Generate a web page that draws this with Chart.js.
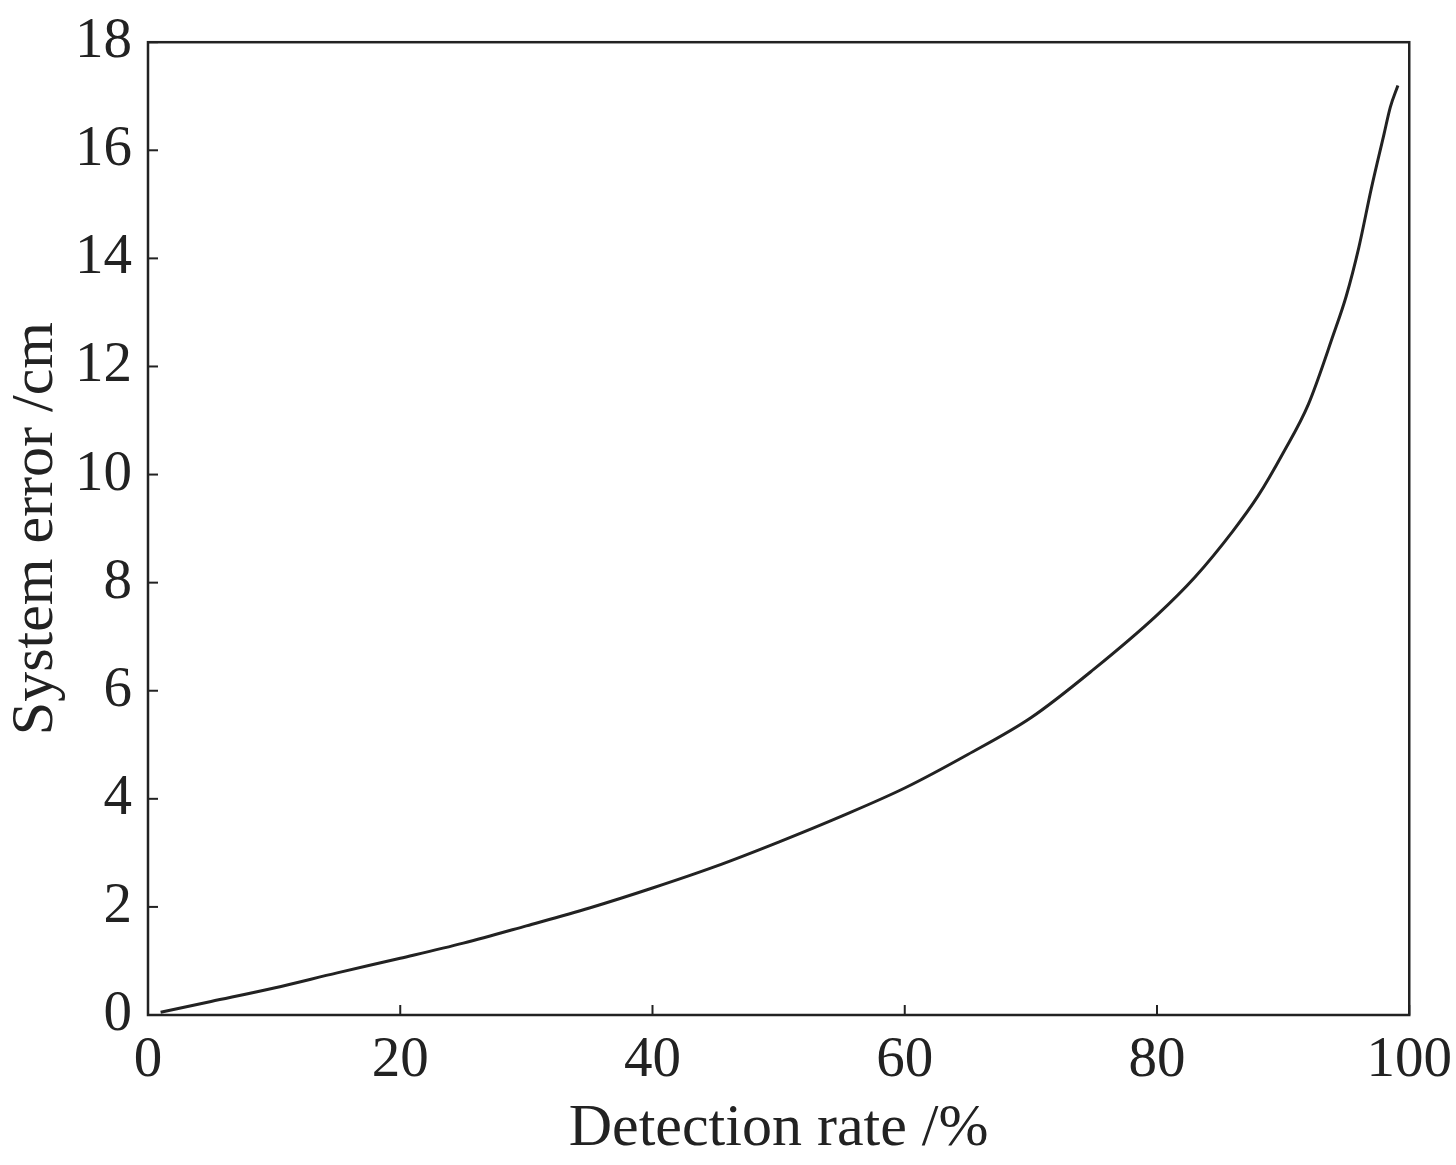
<!DOCTYPE html>
<html>
<head>
<meta charset="utf-8">
<script src="https://cdn.jsdelivr.net/npm/chart.js@4"></script>
<style>body{margin:0;background:#fff}</style>
</head>
<body>
<canvas id="c" width="1456" height="1165"></canvas>
<script>
// values
const rate = [1, 5, 10, 15, 20, 25, 30, 35, 40, 45, 50, 55, 60, 65, 70, 75, 80, 83, 86, 88, 90, 92, 94, 95, 96, 97, 98, 98.5, 99.1];
const err = [0.05, 0.25, 0.5, 0.78, 1.05, 1.33, 1.65, 1.98, 2.35, 2.75, 3.2, 3.68, 4.2, 4.82, 5.5, 6.4, 7.4, 8.1, 8.95, 9.6, 10.4, 11.3, 12.6, 13.3, 14.2, 15.3, 16.3, 16.8, 17.2];
const xTicks = [0, 20, 40, 60, 80, 100];
const yTicks = [0, 2, 4, 6, 8, 10, 12, 14, 16, 18];

const ink = "#222";
const font = "'Liberation Serif', 'DejaVu Serif', serif";

// frame plus short inward tick marks
const framePlugin = {
    id: "frame",
    afterDraw(chart) {
        const { ctx, chartArea: a, scales } = chart;
        ctx.save();
        ctx.strokeStyle = ink;
        ctx.lineWidth = 2.5;
        ctx.strokeRect(a.left, a.top, a.right - a.left, a.bottom - a.top);
        ctx.lineWidth = 2;
        xTicks.forEach(v => {
            const px = scales.x.getPixelForValue(v);
            ctx.beginPath(); ctx.moveTo(px, a.bottom); ctx.lineTo(px, a.bottom - 10); ctx.stroke();
        });
        yTicks.forEach(v => {
            const py = scales.y.getPixelForValue(v);
            ctx.beginPath(); ctx.moveTo(a.left, py); ctx.lineTo(a.left + 10, py); ctx.stroke();
        });
        ctx.restore();
    }
};

new Chart(document.getElementById("c"), {
    type: "scatter",
    data: {
        datasets: [{
            data: rate.map((r, i) => ({ x: r, y: err[i] })),
            showLine: true,
            borderColor: ink,
            borderWidth: 3,
            pointRadius: 0,
            cubicInterpolationMode: "monotone"
        }]
    },
    options: {
        responsive: false,
        animation: false,
        layout: { padding: { top: 4, right: 42 } },
        plugins: { legend: { display: false }, tooltip: { enabled: false } },
        scales: {
            x: {
                min: 0, max: 100,
                afterBuildTicks: s => { s.ticks = xTicks.map(v => ({ value: v })); },
                afterFit: s => { s.height = 150; },
                grid: { display: false },
                border: { display: false },
                ticks: { color: ink, font: { family: font, size: 57 }, padding: 4, maxRotation: 0 },
                title: { display: true, text: "Detection rate /%", color: ink, font: { family: font, size: 60 }, padding: 0 }
            },
            y: {
                min: 0, max: 18,
                afterBuildTicks: s => { s.ticks = yTicks.map(v => ({ value: v })); },
                afterFit: s => { s.width = 148; },
                grid: { display: false },
                border: { display: false },
                ticks: { color: ink, font: { family: font, size: 57 }, padding: 8 },
                title: { display: true, text: "System error /cm", color: ink, font: { family: font, size: 60 }, padding: 0 }
            }
        }
    },
    plugins: [framePlugin]
});
</script>
</body>
</html>
